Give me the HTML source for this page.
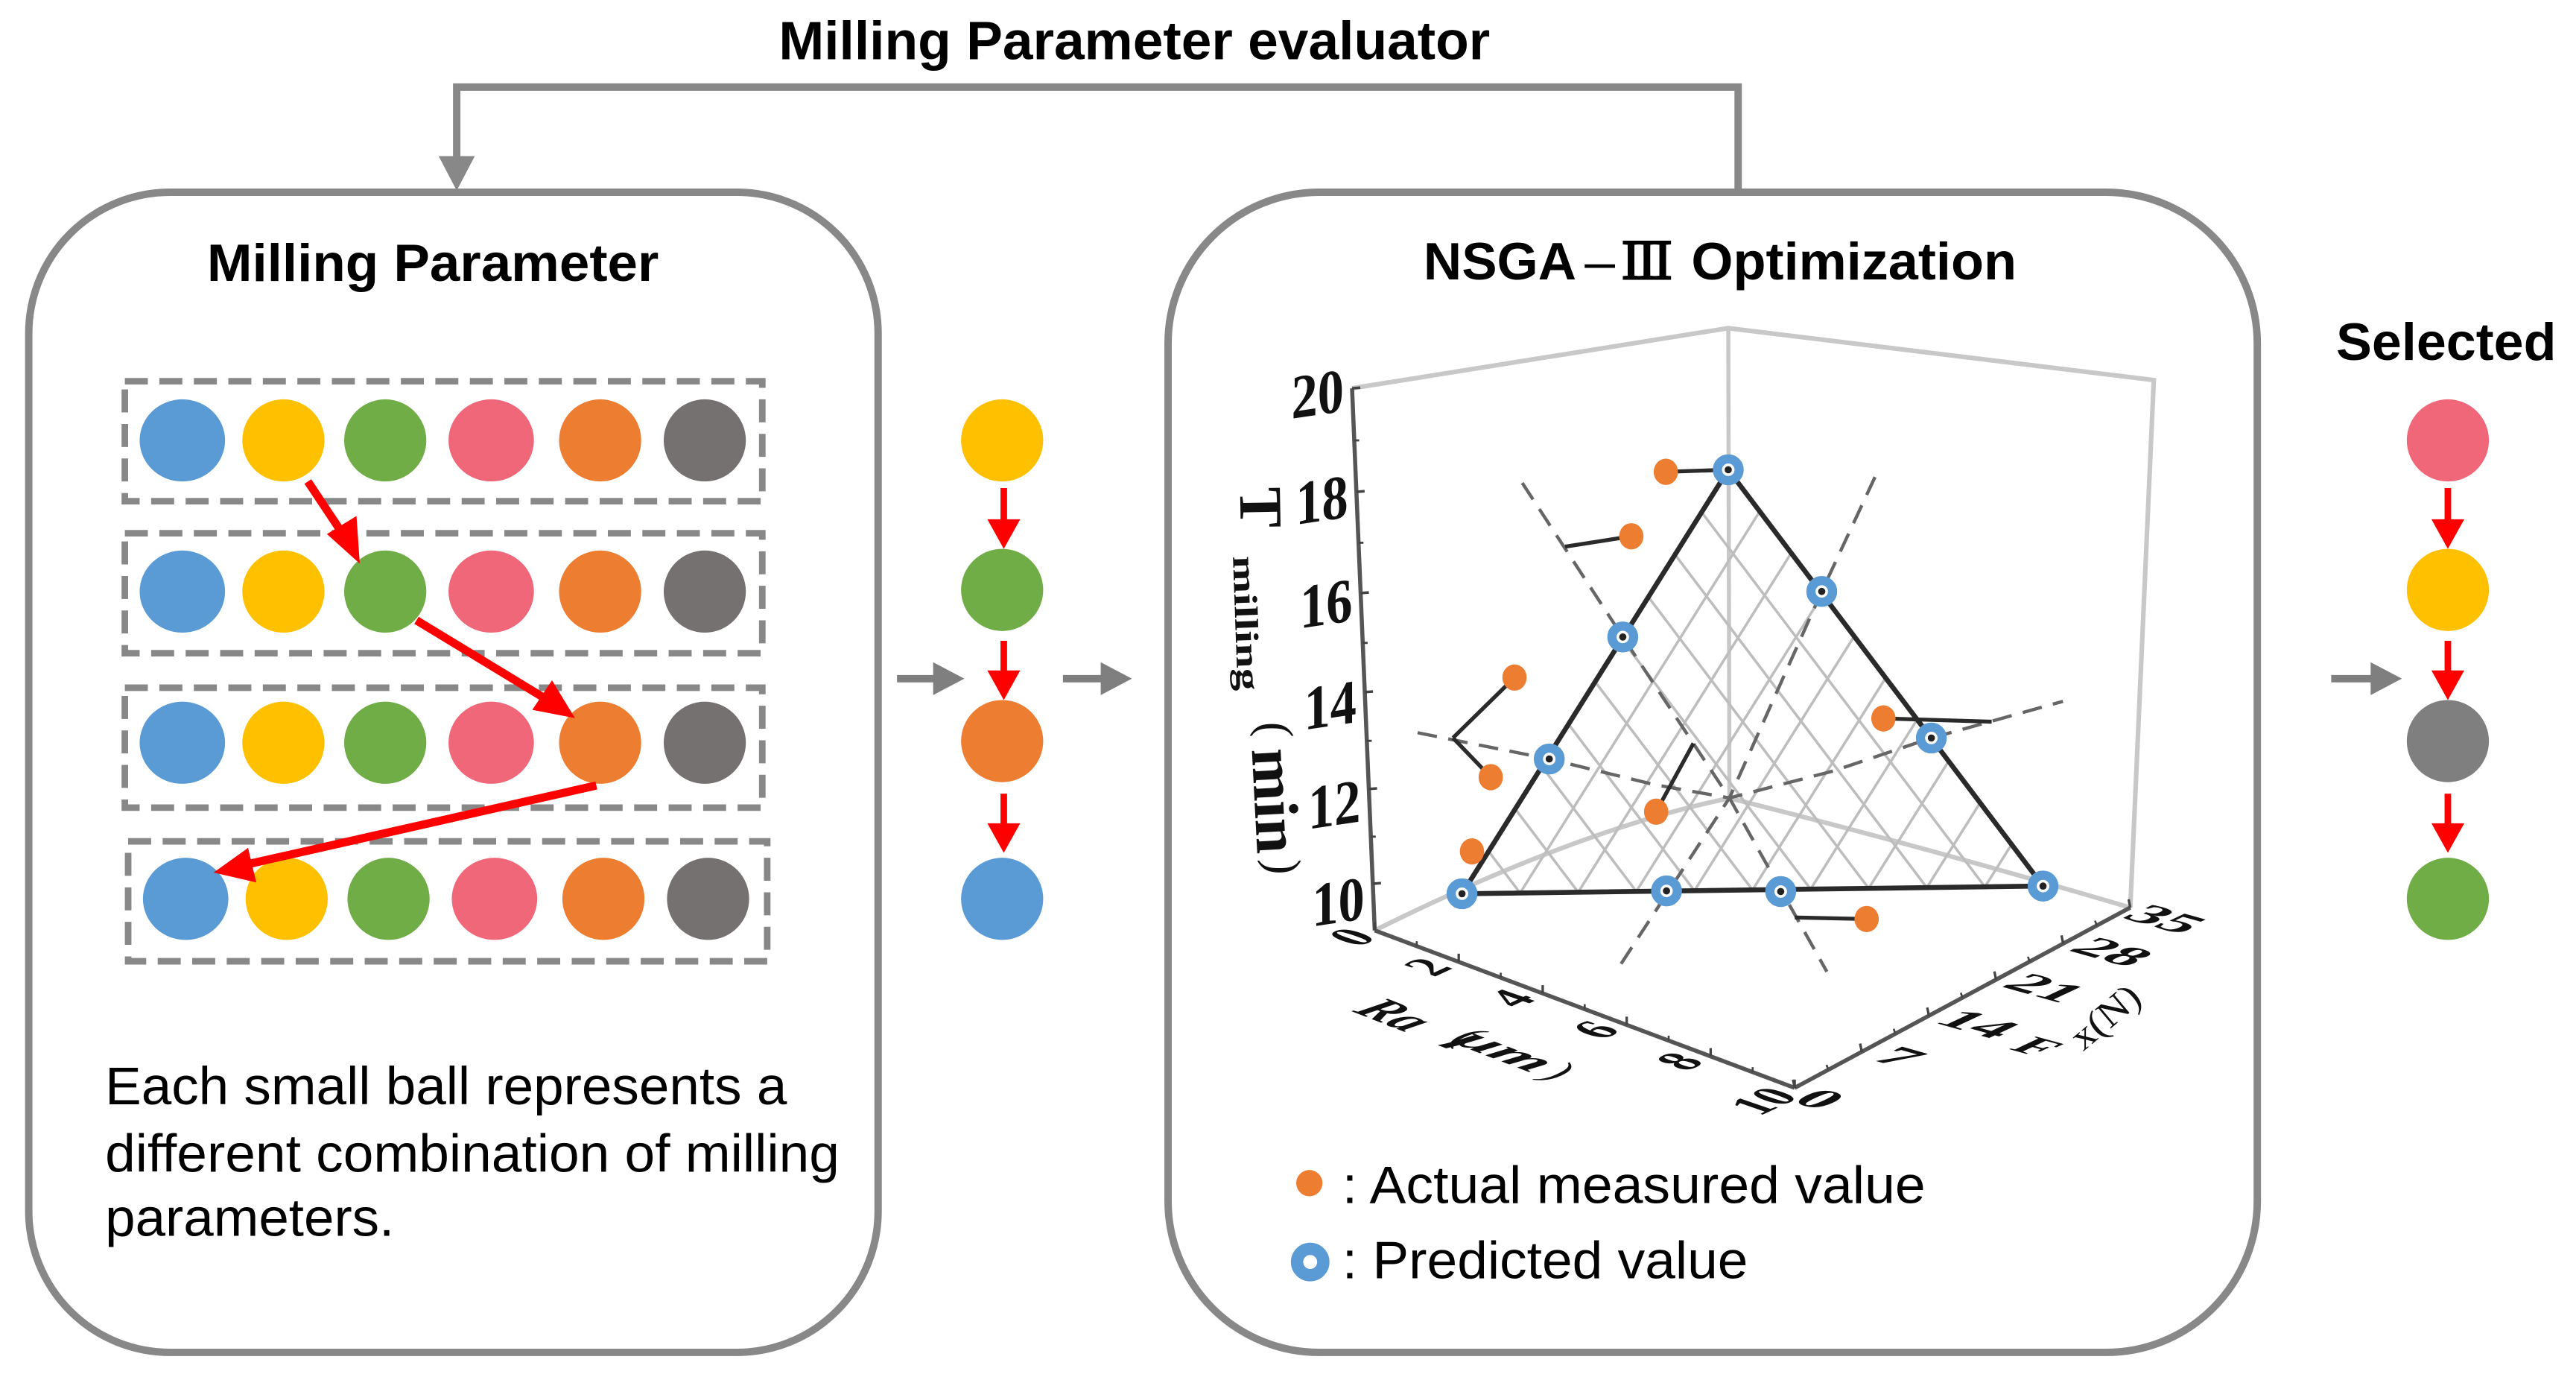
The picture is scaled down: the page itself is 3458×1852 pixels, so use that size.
<!DOCTYPE html>
<html lang="en">
<head>
<meta charset="utf-8">
<title>Milling Parameter NSGA-III Optimization</title>
<style>
html,body{margin:0;padding:0;background:#fff;}
svg{display:block;}
.sans{font-family:"Liberation Sans","Noto Sans CJK SC",sans-serif;fill:#000;}
.b{font-weight:bold;}
.serif{font-family:"Liberation Serif","Noto Serif CJK SC",serif;font-weight:bold;fill:#111;}
.thin{font-weight:normal;}
</style>
</head>
<body>
<svg id="fig" xmlns="http://www.w3.org/2000/svg" width="3458" height="1852" viewBox="0 0 1568 839.8" preserveAspectRatio="none">
  <rect x="0" y="0" width="1568" height="840" fill="#fff"/>

  <text class="sans b" x="474" y="36" font-size="33" textLength="433" lengthAdjust="spacingAndGlyphs">Milling Parameter evaluator</text>
  <polyline points="1058,116 1058,53 278,53 278,100" fill="none" stroke="#888" stroke-width="4.5"/>
  <polygon points="267,95 289,95 278,116" fill="#888"/>

  <rect x="17.5" y="117" width="517" height="706" rx="86" ry="86" fill="none" stroke="#888" stroke-width="4.5"/>
  <rect x="711" y="117" width="663" height="706" rx="92" ry="92" fill="none" stroke="#888" stroke-width="4.5"/>

  <text class="sans b" x="126" y="171" font-size="32" textLength="275" lengthAdjust="spacingAndGlyphs">Milling Parameter</text>
  <g>
    <text class="sans b" x="866.5" y="170" font-size="32" textLength="93" lengthAdjust="spacingAndGlyphs">NSGA</text>
    <text class="sans" x="964.6" y="170" font-size="32" textLength="18.5" lengthAdjust="spacingAndGlyphs">–</text>
    <text x="987" y="169.5" font-size="30" font-family="'Noto Serif CJK SC',serif" fill="#000" stroke="#000" stroke-width="1.4" textLength="31" lengthAdjust="spacingAndGlyphs">Ⅲ</text>
    <text class="sans b" x="1029.5" y="170" font-size="32" textLength="198" lengthAdjust="spacingAndGlyphs">Optimization</text>
  </g>
  <text class="sans b" x="1422" y="219" font-size="32" textLength="134" lengthAdjust="spacingAndGlyphs">Selected</text>

  <g fill="none" stroke="#888" stroke-width="4" stroke-dasharray="14 7">
    <rect x="76" y="232" width="388" height="73"/>
    <rect x="76" y="324.5" width="388" height="73"/>
    <rect x="76" y="418.5" width="388" height="73"/>
    <rect x="78" y="512" width="389" height="73"/>
  </g>
  <g id="balls"></g>

  <g fill="#f00" stroke="#f00">
    <line x1="187.4" y1="293" x2="210" y2="327" stroke-width="5"/>
    <polygon points="219,343 199,325 217,314" stroke="none"/>
    <line x1="253.5" y1="377.5" x2="335" y2="427" stroke-width="5"/>
    <polygon points="350,437 324,432 336,414" stroke="none"/>
    <line x1="363" y1="478" x2="146" y2="527" stroke-width="5"/>
    <polygon points="130,531 151,516 156,537" stroke="none"/>
  </g>
  <g id="columnArrows"></g>

  <g fill="#7f7f7f" stroke="#7f7f7f">
    <line x1="546" y1="413" x2="572" y2="413" stroke-width="4.5"/>
    <polygon points="587,413 568,403 568,423" stroke="none"/>
    <line x1="647" y1="413" x2="673" y2="413" stroke-width="4.5"/>
    <polygon points="689,413 670,403 670,423" stroke="none"/>
    <line x1="1419" y1="413" x2="1447" y2="413" stroke-width="4.5"/>
    <polygon points="1462,413 1443,403 1443,423" stroke="none"/>
  </g>

  <text class="sans" x="64" y="672" font-size="32.5" textLength="415" lengthAdjust="spacingAndGlyphs">Each small ball represents a</text>
  <text class="sans" x="64" y="713" font-size="32.5" textLength="447" lengthAdjust="spacingAndGlyphs">different combination of milling</text>
  <text class="sans" x="64" y="752" font-size="32.5" textLength="176" lengthAdjust="spacingAndGlyphs">parameters.</text>

  <!-- 3D box frame -->
  <g fill="none" stroke="#c8c8c8">
    <polyline points="823,236.3 1052,199.7 1311,231.3 1296.7,552.3" stroke-width="2.8"/>
    <line x1="1052" y1="199.7" x2="1052.7" y2="485.7" stroke-width="2.5"/>
    <path d="M836.8 566.2 Q960 505 1052.7 485.7" stroke-width="2.8"/>
    <path d="M1052.7 485.7 Q1170 515 1296.7 552.3" stroke-width="2.8"/>
  </g>
  <g fill="none" stroke="#555" stroke-width="2.5">
    <line x1="823" y1="236.3" x2="836.8" y2="566.2"/>
    <line x1="836.8" y1="566.2" x2="1092.4" y2="662"/>
    <line x1="1092.4" y1="662" x2="1296.7" y2="552.3"/>
  </g>
  <g id="axes"></g>
  <g id="mesh"></g>
  <g id="guides"></g>
  <g id="marks"></g>

  <!-- axis titles -->
  <text class="serif" transform="translate(755,309) rotate(89)" text-anchor="middle" font-size="37">T</text>
  <text class="serif" transform="translate(750.5,338.5) rotate(88)" font-size="20" textLength="82" lengthAdjust="spacingAndGlyphs">milling</text>
  <text class="serif thin" transform="translate(767,444) rotate(90) scale(1,1.05)" text-anchor="middle" font-size="28">(</text>
  <text class="serif" transform="translate(762,456) rotate(87)" font-size="38" textLength="64" lengthAdjust="spacingAndGlyphs">min</text>
  <text class="serif thin" transform="translate(771.5,527.5) rotate(90) scale(1,1.05)" text-anchor="middle" font-size="28">)</text>

  <text class="serif" font-style="italic" text-anchor="middle" dy=".33em" transform="translate(849,617.5) matrix(.9,.35,-.9,.42,0,0)" font-size="32">Ra</text>
  <text class="serif thin" text-anchor="middle" dy=".25em" transform="translate(892,631.6) matrix(.93,.37,-.9,.42,0,0)" font-size="28">(</text>
  <text class="serif" font-style="italic" text-anchor="middle" dy=".2em" transform="translate(913,641) matrix(1.25,.48,-.9,.42,0,0)" font-size="30">μm</text>
  <text class="serif thin" text-anchor="middle" dy=".25em" transform="translate(947.7,653) matrix(.93,.37,-.9,.42,0,0)" font-size="28">)</text>

  <text class="serif" text-anchor="middle" dy=".33em" transform="translate(1240,637) matrix(1.1,.3,-.9,.42,0,0)" font-size="28">F</text>
  <text class="serif thin" transform="translate(1268,640) rotate(-40)" font-size="23" textLength="48" lengthAdjust="spacingAndGlyphs">x(N)</text>

  <!-- legend -->
  <circle cx="797" cy="720" r="8" fill="#ED7D31"/>
  <text class="sans" x="817" y="732" font-size="32" textLength="355" lengthAdjust="spacingAndGlyphs">: Actual measured value</text>
  <circle cx="797.5" cy="768" r="8" fill="#fff" stroke="#5B9BD5" stroke-width="7.5"/>
  <text class="sans" x="817" y="778" font-size="32" textLength="247" lengthAdjust="spacingAndGlyphs">: Predicted value</text>
</svg>

<script>
// ---- chart data ----
var tTicks = [10, 12, 14, 16, 18, 20];
var tMinorTicks = [11, 13, 15, 17, 19];
var raTicks = [0, 2, 4, 6, 8, 10];
var raMinorTicks = [1, 3, 5, 7, 9];
var fxTicks = [0, 7, 14, 21, 28, 35];
var fxMinorTicks = [3.5, 10.5, 17.5, 24.5, 31.5];

// predicted value series (rings)
var predictedRa = [4, 5, 3, 2, 6, 1, 4, 5, 9];
var predictedFx = [19.35, 24.72, 12.73, 9.44, 31.77, 4.72, 12.91, 20.44, 30.28];
var predictedT = [17.60, 14.89, 14.58, 12.13, 11.50, 9.57, 9.73, 9.25, 9.61];

// actual measured series (orange dots)
var measuredRa = [3.5, 3, 2, 1.5, 1, 4, 6, 7];
var measuredFx = [15.03, 13.62, 5.82, 5.53, 5.76, 11.83, 26.77, 20.64];
var measuredT = [17.85, 16.53, 14.16, 12.01, 10.32, 11.45, 12.42, 9.31];

// leader ends for the measured dots (null = no leader)
var leaderRa = [4, 3, 1, 1, null, 4, 7, 5];
var leaderFx = [19.35, 6.72, 3.78, 3.78, null, 15.72, 33.68, 21.91];
var leaderT = [17.60, 17.04, 12.83, 12.83, null, 12.43, 11.95, 8.57];

// dashed guide lines through the centre of the triangle
var guide1Ra = [2.5, 3, 4.5, 6];
var guide1Fx = [4.44, 12.73, 17.28, 20.87];
var guide1T = [18.41, 14.58, 11.32, 7.90];
var guide2Ra = [5, 5, 4.5, 4];
var guide2Fx = [30.27, 24.72, 17.28, 8.10];
var guide2T = [16.63, 14.89, 11.32, 8.73];
var guide3Ra = [1, 2, 4, 4.5, 6, 6, 9];
var guide3Fx = [0.09, 9.44, 11.57, 17.28, 21.54, 31.77, 32.36];
var guide3T = [13.32, 12.13, 12.03, 11.32, 11.90, 11.50, 13.14];

var meshDivisions = 10;

// decorative ball rows
var ballColors = ['#5B9BD5', '#FFC000', '#70AD47', '#F0677A', '#ED7D31', '#767171'];

var SVGNS = 'http://www.w3.org/2000/svg';
function make(parent, tag, attrs) {
  var el = document.createElementNS(SVGNS, tag);
  for (var k in attrs) { el.setAttribute(k, attrs[k]); }
  parent.appendChild(el);
  return el;
}

// ---- axis functions ----
function project(ra, fx, t) {
  return {
    x: 836.8 + 25.56 * ra + 5.837 * fx,
    y: 566.2 + 9.58 * ra - 3.134 * fx - 30 * (t - 9)
  };
}
function tAxisPoint(t) {
  var u = (20 - t) / 11;
  var s = u * 1.0625 / (1 + 0.0625 * u);
  return { x: 823 + 13.8 * s, y: 236.3 + 329.9 * s };
}
function raAxisPoint(v) { return project(v, 0, 9); }
function fxAxisPoint(v) { return project(10, v, 9); }
function fxLabelOffset(v) {
  if (v === 0) { return [15.4, 6.8]; }
  if (v < 10) { return [23, 3]; }
  if (v > 30) { return [21.5, 7]; }
  return [30, 5];
}
function raLabelOffset(v) {
  if (v === 0) { return [-14, 4]; }
  if (v === 10) { return [-19, 8]; }
  return [-19, 3];
}
function polyPoints(ra, fx, t) {
  var out = [];
  for (var i = 0; i < ra.length; i++) {
    var p = project(ra[i], fx[i], t[i]);
    out.push(p.x.toFixed(1) + ',' + p.y.toFixed(1));
  }
  return out.join(' ');
}

// ---- axes ----
var axes = document.getElementById('axes');
tTicks.forEach(function (v) {
  var p = tAxisPoint(v);
  var tick = make(axes, 'line', { x1: p.x, y1: p.y, x2: p.x + 5, y2: p.y - 0.4, stroke: '#444', 'stroke-width': 1.6 });
  
  
  var label = make(axes, 'text', { 'class': 'serif', 'text-anchor': 'middle', 'font-size': 38, dy: '.33em',
    transform: 'translate(' + (p.x - 21) + ',' + (p.y + 3.6 + (20 - v) * 0.75) + ') skewY(-8.5) scale(.84,1)' });
  label.textContent = String(v);
  
  
});
tMinorTicks.forEach(function (v) {
  var p = tAxisPoint(v);
  var tick = make(axes, 'line', { x1: p.x, y1: p.y, x2: p.x + 3, y2: p.y, stroke: '#444', 'stroke-width': 1.3 });
  
  
});
raTicks.forEach(function (v) {
  var p = raAxisPoint(v);
  var off = raLabelOffset(v);
  var tick = make(axes, 'line', { x1: p.x, y1: p.y, x2: p.x, y2: p.y - 5, stroke: '#444', 'stroke-width': 1.5 });
  
  
  var label = make(axes, 'text', { 'class': 'serif', 'text-anchor': 'middle', 'font-size': 32, dy: '.33em',
    transform: 'translate(' + (p.x + off[0]) + ',' + (p.y + off[1]) + ') matrix(.78,-.36,.945,.326,0,0)' });
  label.textContent = String(v);
  
  
});
raMinorTicks.forEach(function (v) {
  var p = raAxisPoint(v);
  var tick = make(axes, 'line', { x1: p.x, y1: p.y, x2: p.x, y2: p.y - 3, stroke: '#444', 'stroke-width': 1.2 });
  
  
});
fxTicks.forEach(function (v) {
  var p = fxAxisPoint(v);
  var off = fxLabelOffset(v);
  var tick = make(axes, 'line', { x1: p.x, y1: p.y, x2: p.x - 1, y2: p.y - 5, stroke: '#444', 'stroke-width': 1.5 });
  
  
  var label = make(axes, 'text', { 'class': 'serif', 'text-anchor': 'middle', 'font-size': 30, dy: '.33em',
    transform: 'translate(' + (p.x + off[0]) + ',' + (p.y + off[1]) + ') matrix(1.25,.35,-.9,.42,0,0)' });
  label.textContent = String(v);
  
  
});
fxMinorTicks.forEach(function (v) {
  var p = fxAxisPoint(v);
  var tick = make(axes, 'line', { x1: p.x, y1: p.y, x2: p.x - 1, y2: p.y - 3, stroke: '#444', 'stroke-width': 1.2 });
  
  
});

// ---- triangle vertices taken from the predicted series ----
var apex = project(predictedRa[0], predictedFx[0], predictedT[0]);
var baseL = project(predictedRa[5], predictedFx[5], predictedT[5]);
var baseR = project(predictedRa[8], predictedFx[8], predictedT[8]);
function lerp(a, b, u) { return { x: a.x + (b.x - a.x) * u, y: a.y + (b.y - a.y) * u }; }

var mesh = document.getElementById('mesh');
for (var k = 1; k < meshDivisions; k++) {
  var u = k / meshDivisions;
  var foot = lerp(baseL, baseR, u);
  var onRight = lerp(baseR, apex, 1 - u);
  var onLeft = lerp(baseL, apex, u);
  var m1 = make(mesh, 'line', { x1: foot.x, y1: foot.y, x2: onRight.x, y2: onRight.y, stroke: '#bdbdbd', 'stroke-width': 1.6 });
  
  
  var m2 = make(mesh, 'line', { x1: foot.x, y1: foot.y, x2: onLeft.x, y2: onLeft.y, stroke: '#bdbdbd', 'stroke-width': 1.6 });
  
  
}

// ---- dashed guides ----
var guidesLayer = document.getElementById('guides');
[[guide1Ra, guide1Fx, guide1T], [guide2Ra, guide2Fx, guide2T], [guide3Ra, guide3Fx, guide3T]].forEach(function (g) {
  var line = make(guidesLayer, 'polyline', { points: polyPoints(g[0], g[1], g[2]), fill: 'none', stroke: '#666', 'stroke-width': 2, 'stroke-dasharray': '12 7' });
  
  
});

// ---- triangle outline, leaders, markers ----
var marks = document.getElementById('marks');
var tri = make(marks, 'polygon', {
  points: [apex, baseL, baseR].map(function (p) { return p.x.toFixed(1) + ',' + p.y.toFixed(1); }).join(' '),
  fill: 'none', stroke: '#2a2a2a', 'stroke-width': 3, 'stroke-linejoin': 'round' });



measuredRa.forEach(function (ra, i) {
  if (leaderRa[i] === null) { return; }
  var a = project(ra, measuredFx[i], measuredT[i]);
  var b = project(leaderRa[i], leaderFx[i], leaderT[i]);
  var leader = make(marks, 'line', { x1: a.x, y1: a.y, x2: b.x, y2: b.y, stroke: '#2a2a2a', 'stroke-width': 2.4 });
  
  
});
predictedRa.forEach(function (ra, i) {
  var p = project(ra, predictedFx[i], predictedT[i]);
  var ring = make(marks, 'circle', { cx: p.x, cy: p.y, r: 6.6, fill: '#fff', stroke: '#5B9BD5', 'stroke-width': 5.6 });
  
  
  var dot = make(marks, 'circle', { cx: p.x, cy: p.y, r: 2.2, fill: '#222' });
  
  
});
measuredRa.forEach(function (ra, i) {
  var p = project(ra, measuredFx[i], measuredT[i]);
  var dot = make(marks, 'ellipse', { cx: p.x, cy: p.y, rx: 7.4, ry: 8, fill: '#ED7D31' });
  
  
});

// ---- ball rows and columns ----
var balls = document.getElementById('balls');
var rowY = [268, 360, 452, 547];
var colX = [111, 172.5, 234.5, 299, 365.3, 429];
rowY.forEach(function (y, r) {
  ballColors.forEach(function (c, i) {
    var b = make(balls, 'ellipse', { cx: colX[i] + (r === 3 ? 2 : 0), cy: y, rx: i === 0 || i === 3 ? 26 : 25, ry: 25, fill: c });
    
    
  });
});
var middleColumn = ['#FFC000', '#70AD47', '#ED7D31', '#5B9BD5'];
var selectedColumn = ['#F0677A', '#FFC000', '#7F7F7F', '#70AD47'];
var columnY = [268, 359, 451, 547];
[[610, middleColumn], [1490, selectedColumn]].forEach(function (col) {
  col[1].forEach(function (c, i) {
    var b = make(balls, 'ellipse', { cx: col[0], cy: columnY[i], rx: 25, ry: 25, fill: c });
    
    
  });
});
var columnArrows = document.getElementById('columnArrows');
var arrowSpans = [[297, 334], [390, 426], [483, 519]];
[611, 1490].forEach(function (x) {
  arrowSpans.forEach(function (s) {
    var shaft = make(columnArrows, 'line', { x1: x, y1: s[0], x2: x, y2: s[1] - 14, stroke: '#f00', 'stroke-width': 4 });
    
    
    var head = make(columnArrows, 'polygon', { points: (x - 10) + ',' + (s[1] - 18) + ' ' + (x + 10) + ',' + (s[1] - 18) + ' ' + x + ',' + s[1], fill: '#f00' });
    
    
  });
});
</script>
</body>
</html>
